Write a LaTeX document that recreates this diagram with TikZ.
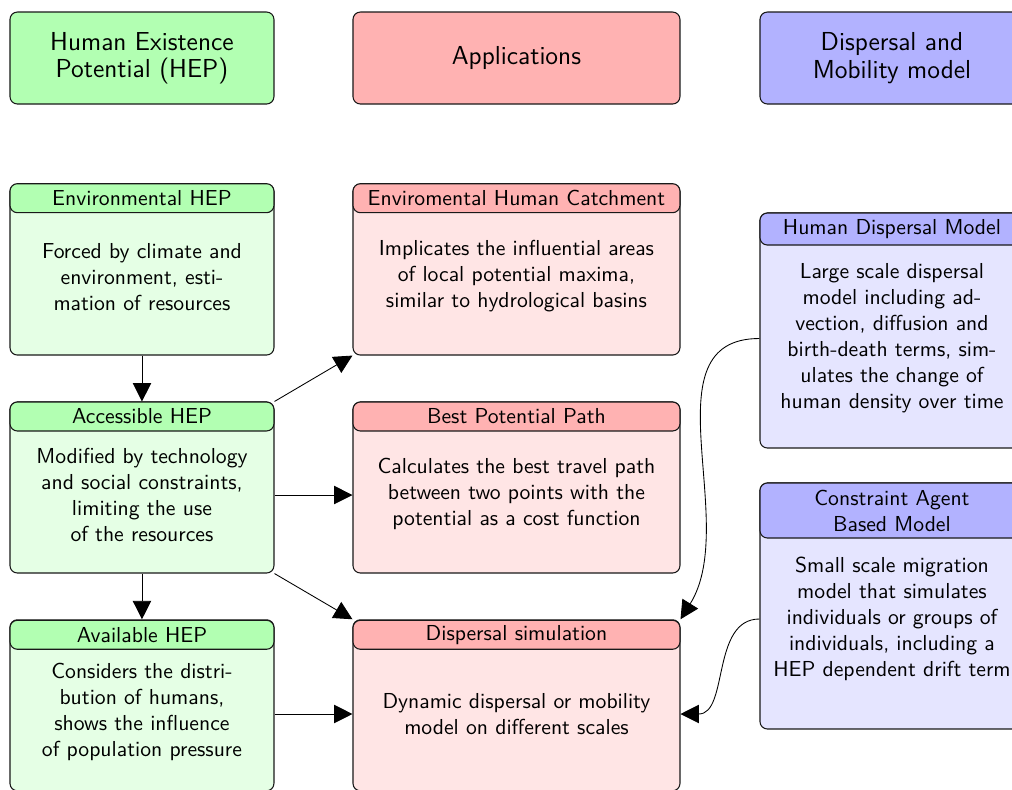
\documentclass[tikz,border=0pt]{standalone}
\usetikzlibrary{arrows.meta}

\begin{document}
\begin{tikzpicture}[
    box/.style={draw=black!90, line width=0.5pt, rounded corners=1.2mm},
    hepbody/.style={box, fill=green!10},
    hephead/.style={box, fill=green!30},
    appbody/.style={box, fill=red!10},
    apphead/.style={box, fill=red!30},
    dmmbody/.style={box, fill=blue!10},
    dmmhead/.style={box, fill=blue!30},
    lcol/.style={minimum width=4.282cm},
    mcol/.style={minimum width=5.304cm},
    bar/.style={minimum height=0.47cm, inner sep=0pt, font=\sffamily},
    txt/.style={align=center, font=\sffamily},
    big/.style={minimum height=1.492cm, align=center, font=\sffamily\fontsize{12}{12.6}\selectfont},
    arr/.style={-{Triangle[length=8.5pt,width=8.5pt]}, black}
]
\useasboundingbox (0,0) rectangle (16.416,-12.799);

\node[hephead, lcol, big] (hep) at (2.303,-0.941) {Human Existence\\Potential (HEP)};
\node[apphead, mcol, big] (app) at (8.378,-0.941) {Applications};
\node[dmmhead, lcol, big] (dmm) at (14.469,-0.941) {Dispersal and\\Mobility model};

\node[hepbody, lcol, minimum height=2.774cm] (env) at (2.303,-4.372) {};
\node[hephead, lcol, bar] (envhead) at (2.303,-3.215) {Environmental HEP};
\node[txt] (envtxt) at (2.303,-4.493) {Forced by climate and\\environment, esti-\\mation of resources};

\node[hepbody, lcol, minimum height=2.774cm] (acc) at (2.303,-7.908) {};
\node[hephead, lcol, bar] (acchead) at (2.303,-6.756) {Accessible HEP};
\node[txt] (acctxt) at (2.303,-8.030) {Modified by technology\\and social constraints,\\limiting the use\\of the resources};

\node[hepbody, lcol, minimum height=2.774cm] (avail) at (2.303,-11.441) {};
\node[hephead, lcol, bar] (availhead) at (2.303,-10.297) {Available HEP};
\node[txt] (availtxt) at (2.303,-11.549) {Considers the distri-\\bution of humans,\\shows the influence\\of population pressure};

\node[appbody, mcol, minimum height=2.774cm] (catch) at (8.378,-4.372) {};
\node[apphead, mcol, bar] (catchhead) at (8.378,-3.215) {Enviromental Human Catchment};
\node[txt] (catchtxt) at (8.378,-4.477) {Implicates the influential areas\\of local potential maxima,\\similar to hydrological basins};

\node[appbody, mcol, minimum height=2.774cm] (path) at (8.378,-7.908) {};
\node[apphead, mcol, bar] (pathhead) at (8.378,-6.756) {Best Potential Path};
\node[txt] (pathtxt) at (8.378,-8.013) {Calculates the best travel path\\between two points with the\\potential as a cost function};

\node[appbody, mcol, minimum height=2.774cm] (sim) at (8.378,-11.441) {};
\node[apphead, mcol, bar] (simhead) at (8.378,-10.297) {Dispersal simulation};
\node[txt] (simtxt) at (8.378,-11.582) {Dynamic dispersal or mobility\\model on different scales};

\node[dmmbody, lcol, minimum height=3.812cm] (hdm) at (14.469,-5.361) {};
\node[dmmhead, lcol, bar, minimum height=0.519cm] (hdmhead) at (14.469,-3.715) {Human Dispersal Model};
\node[txt] (hdmtxt) at (14.469,-5.491) {Large scale dispersal\\model including ad-\\vection, diffusion and\\birth-death terms, sim-\\ulates the change of\\human density over time};

\node[dmmbody, lcol, minimum height=3.990cm] (abm) at (14.469,-9.830) {};
\node[dmmhead, lcol, bar, align=center, minimum height=0.892cm] (abmhead) at (14.469,-8.281) {Constraint Agent\\Based Model};
\node[txt] (abmtxt) at (14.469,-10.041) {Small scale migration\\model that simulates\\individuals or groups of\\individuals, including a\\HEP dependent drift term};

\draw[arr] (env.south) -- (acc.north);
\draw[arr] (acc.south) -- (avail.north);
\draw[arr] (acc.north east) -- (catch.south west);
\draw[arr] (acctxt -| acc.east) -- (acctxt -| path.west);
\draw[arr] (acc.south east) -- (sim.north west);
\draw[arr] (simtxt -| avail.east) -- (simtxt -| sim.west);
\draw[arr] (hdmtxt -| hdm.west) to[out=180,in=58] (sim.north east);
\draw[arr] (abmtxt -| abm.west) to[out=180,in=0] (simtxt -| sim.east);

\end{tikzpicture}
\end{document}
